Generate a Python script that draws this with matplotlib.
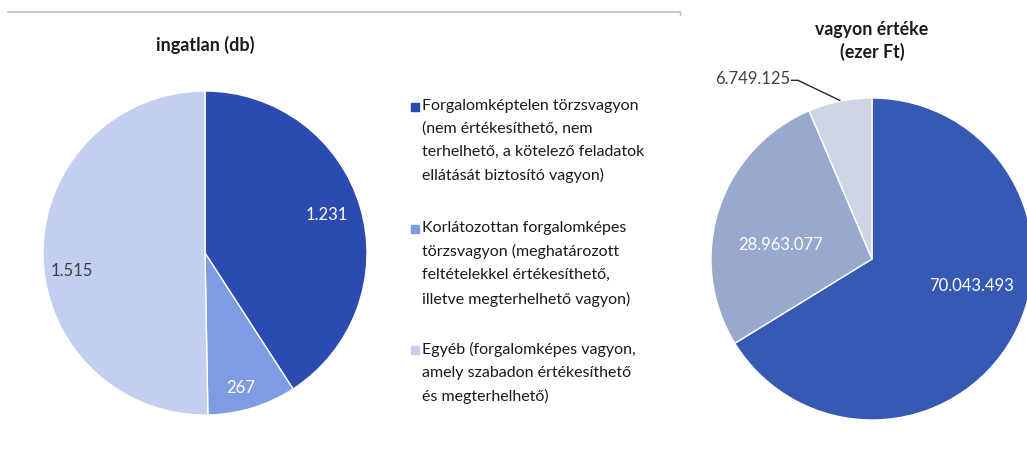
import numpy as np
import matplotlib.pyplot as plt
from matplotlib.patches import Rectangle
from matplotlib.lines import Line2D

plt.rcParams['font.family'] = ['Lato', 'DejaVu Sans']

categories = [
    "Forgalomképtelen törzsvagyon\n(nem értékesíthető, nem\nterhelhető, a kötelező feladatok\nellátását biztosító vagyon)",
    "Korlátozottan forgalomképes\ntörzsvagyon (meghatározott\nfeltételekkel értékesíthető,\nilletve megterhelhető vagyon)",
    "Egyéb (forgalomképes vagyon,\namely szabadon értékesíthető\nés megterhelhető)",
]
ingatlan_db = [1231, 267, 1515]
vagyon_ertek = [70043493, 28963077, 6749125]
left_colors = ['#2B4BB2', '#7F9BE2', '#C3CFF1']
right_colors = ['#3659B4', '#98A9CD', '#CDD4E3']

W, H = 1027, 471


def fmt(v):
    return f"{v:,}".replace(",", ".")


def px_axes(cx, cy, r):
    return [(cx - r) / W, (H - cy - r) / H, 2 * r / W, 2 * r / H]


fig = plt.figure(figsize=(W / 100, H / 100), dpi=100)

# top rule
fig.add_artist(Line2D([8 / W, 680 / W], [1 - 12 / H, 1 - 12 / H], color='#BFBFBF', lw=1.2))
fig.add_artist(Line2D([680 / W, 680 / W], [1 - 12 / H, 1 - 15 / H], color='#BFBFBF', lw=1))

# left pie
ax1 = fig.add_axes(px_axes(205, 253, 162))
wedges, _ = ax1.pie(ingatlan_db, colors=left_colors, startangle=90, counterclock=False,
                    radius=1, wedgeprops=dict(edgecolor='white', linewidth=1))
ax1.set_xlim(-1, 1)
ax1.set_ylim(-1, 1)
ax1.set_aspect('equal')
ax1.axis('off')
left_dist = [0.79, 0.86, 0.83]
left_shift = [1, -2, 7]  # degrees, label nudges
for i, (w, v) in enumerate(zip(wedges, ingatlan_db)):
    ang = np.deg2rad((w.theta1 + w.theta2) / 2 + left_shift[i])
    d = left_dist[i]
    ax1.text(d * np.cos(ang), d * np.sin(ang), fmt(v), ha='center', va='center',
             fontsize=12, color='white' if i < 2 else '#404040')
fig.text(205 / W, 1 - 45 / H, "ingatlan (db)", ha='center', va='center',
         fontsize=13, fontweight='bold', color='#1a1a1a')

# legend
ys = [107, 229, 350]
for c, lab, y in zip(left_colors, categories, ys):
    fig.add_artist(Rectangle((411 / W, 1 - (y + 4) / H), 8 / W, 8 / H, color=c))
    fig.text(422 / W, 1 - (y - 8) / H, lab, ha='left', va='top', fontsize=11.5,
             color='#1a1a1a', linespacing=1.78)

# right pie
ax2 = fig.add_axes(px_axes(872, 259, 161))
wedges2, _ = ax2.pie(vagyon_ertek, colors=right_colors, startangle=90, counterclock=False,
                     radius=1, wedgeprops=dict(edgecolor='white', linewidth=1))
ax2.set_xlim(-1, 1)
ax2.set_ylim(-1, 1)
ax2.set_aspect('equal')
ax2.axis('off')
ax2.text(0.62, -0.17, fmt(vagyon_ertek[0]), ha='center', va='center', fontsize=12, color='white')
ax2.text(-0.57, 0.09, fmt(vagyon_ertek[1]), ha='center', va='center', fontsize=12, color='white')
ax2.text(-0.51, 1.12, fmt(vagyon_ertek[2]), ha='right', va='center', fontsize=12,
         color='#404040', clip_on=False)
ax2.plot([-0.5, -0.46, -0.2], [1.11, 1.11, 0.985], color='#262626', lw=1, clip_on=False)
fig.text(872 / W, 1 - 41 / H, "vagyon értéke\n(ezer Ft)", ha='center', va='center',
         fontsize=12.8, fontweight='bold', color='#1a1a1a', linespacing=1.35)

fig.savefig('out.png', dpi=100)
